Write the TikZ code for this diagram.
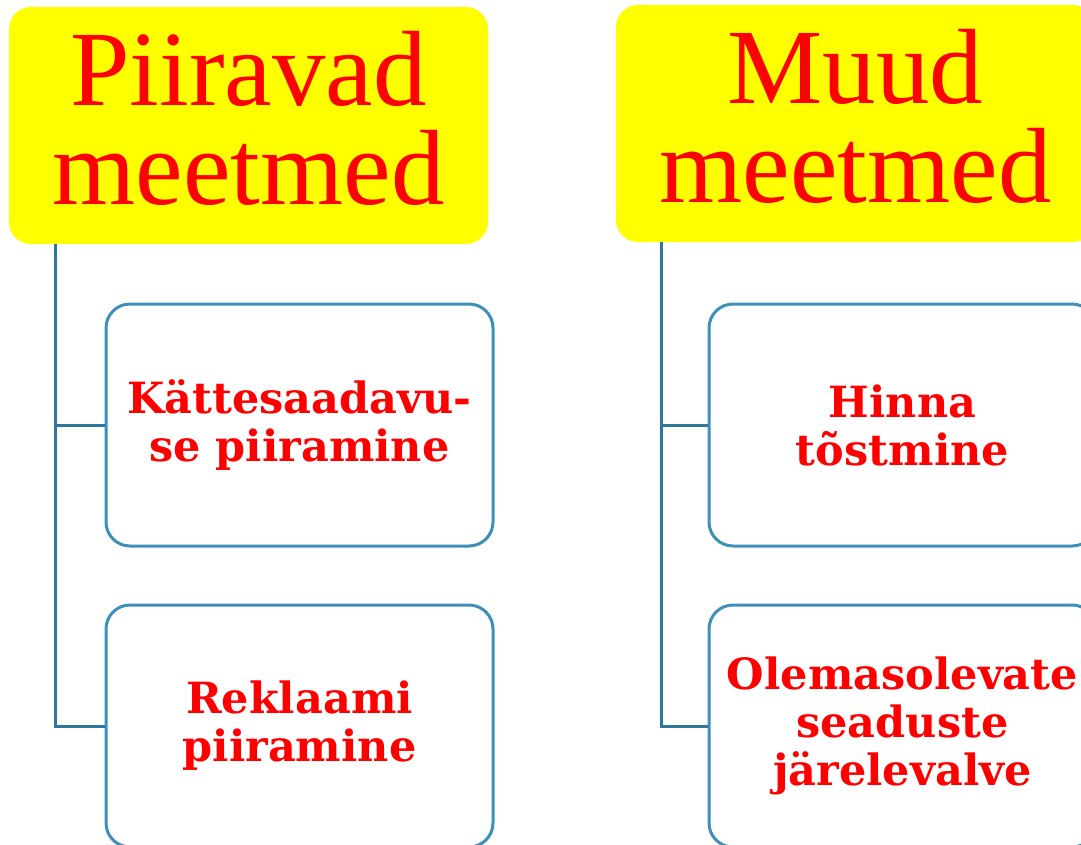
\documentclass[tikz,border=0pt]{standalone}
\usepackage{fontspec}
\setmainfont{Liberation Serif}
\newfontfamily\boxfont{DejaVu Serif}
\definecolor{boxblue}{RGB}{62,144,186}
\definecolor{linkblue}{RGB}{44,120,152}
\definecolor{hdryellow}{RGB}{255,255,0}
\definecolor{txtred}{RGB}{255,0,0}
\begin{document}
\begin{tikzpicture}[x=1pt,y=-1pt,
  hdr/.style={fill=hdryellow, rounded corners=22pt, minimum width=479pt, minimum height=237pt,
    inner sep=0pt, text depth=16pt, font=\fontsize{107}{99}\selectfont, text=txtred, align=center},
  leaf/.style={draw=boxblue, line width=3pt, rounded corners=24pt, fill=white,
    minimum width=387pt, minimum height=242pt, inner sep=0pt,
    font=\boxfont\bfseries\fontsize{43}{48}\selectfont, text=txtred, align=center},
  link/.style={draw=linkblue, line width=3pt}]
\useasboundingbox (0,0) rectangle (1081,845);
\clip (0,0) rectangle (1081,845);
% headers
\node[hdr] (hL) at (248.5,125.5) {Piiravad\\meetmed};
\node[hdr] (hR) at (855.5,123.5) {Muud\\meetmed};
% connector roots
\coordinate (tL) at (55,244);
\coordinate (tR) at (661,242);
% leaves
\node[leaf] (l1) at (299.5,425) {Kättesaadavu-\\se piiramine};
\node[leaf] (l2) at (299.5,726) {Reklaami\\piiramine};
\node[leaf] (r1) at (902.5,425) {Hinna\\tõstmine};
\node[leaf] (r2) at (902.5,726) {Olemasolevate\\seaduste\\järelevalve};
% connectors
\draw[link] (tL) |- (l1.west);
\draw[link] (tL) |- (l2.west);
\draw[link] (tR) |- (r1.west);
\draw[link] (tR) |- (r2.west);
\end{tikzpicture}
\end{document}
